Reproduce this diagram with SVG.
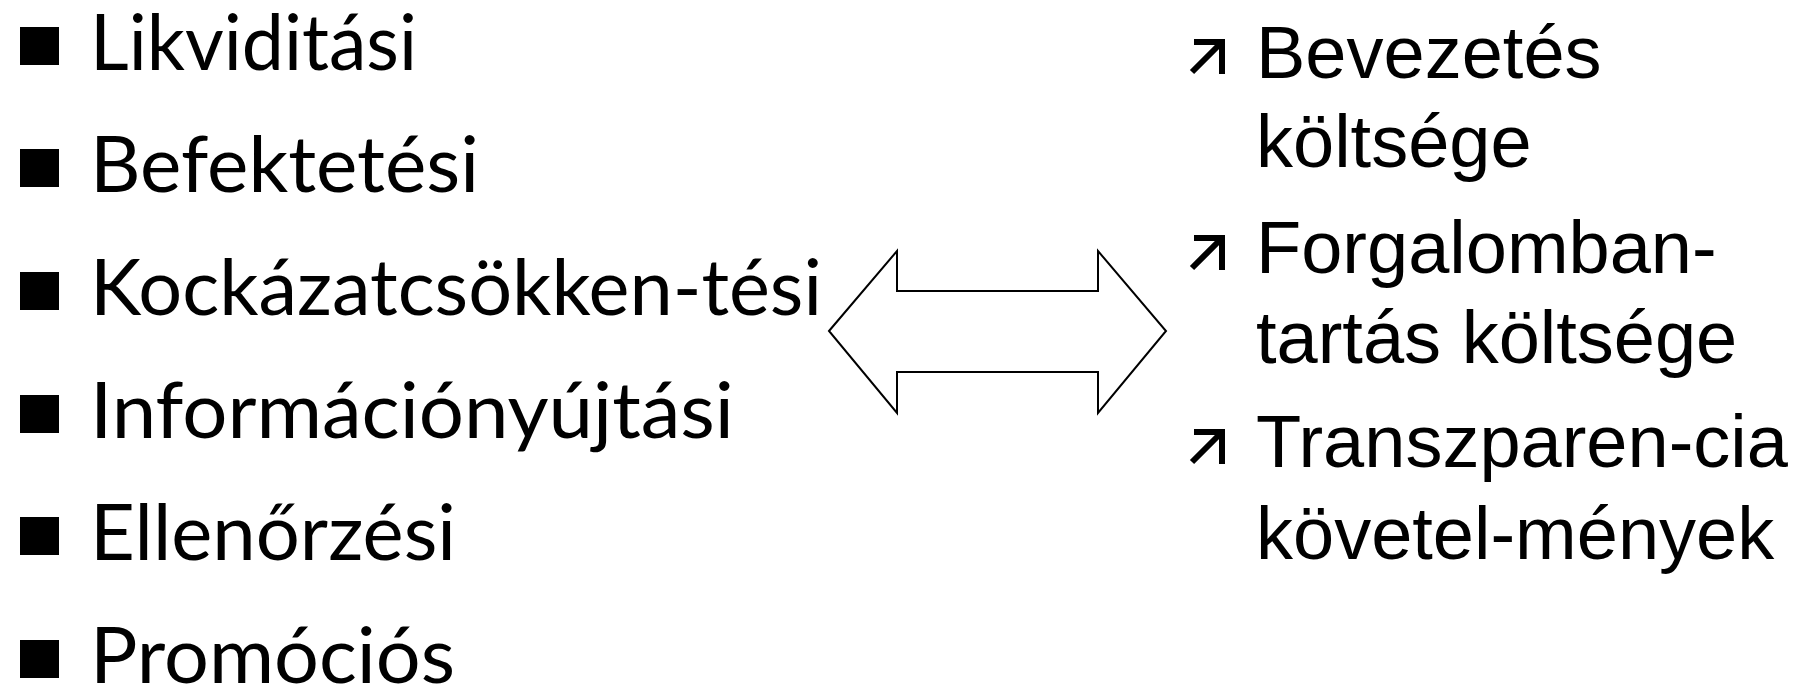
<svg xmlns="http://www.w3.org/2000/svg" width="1807" height="687" viewBox="0 0 1807 687">
<style>
.l{font-family:Lato,"Liberation Sans",sans-serif;font-size:78px;fill:#000}
.r{font-family:"Liberation Sans",Arial,sans-serif;font-size:74px;fill:#000}
.sq{fill:#000}
.bl{fill:none;stroke:#000;stroke-width:6;stroke-linecap:butt;stroke-linejoin:miter}
</style>
<defs>
<path id="arr" class="bl" d="M-14,16 L14,-12 M-12,-14 L16,-14 L16,18"/>
</defs>
<rect width="1807" height="687" fill="#fff"/>
<g id="left-list">
<g id="l1"><rect class="sq" x="20" y="27" width="39" height="38"/><text class="l" x="90" y="70" textLength="327" lengthAdjust="spacingAndGlyphs">Likviditási</text></g>
<g id="l2"><rect class="sq" x="20" y="149" width="39" height="38"/><text class="l" x="90" y="192" textLength="389" lengthAdjust="spacingAndGlyphs">Befektetési</text></g>
<g id="l3"><rect class="sq" x="20" y="272" width="39" height="38"/><text class="l" x="90" y="315" textLength="732" lengthAdjust="spacingAndGlyphs">Kockázatcsökken-tési</text></g>
<g id="l4"><rect class="sq" x="20" y="395" width="39" height="38"/><text class="l" x="90" y="438" textLength="644" lengthAdjust="spacingAndGlyphs">Információnyújtási</text></g>
<g id="l5"><rect class="sq" x="20" y="517" width="39" height="38"/><text class="l" x="90" y="560" textLength="366" lengthAdjust="spacingAndGlyphs">Ellenőrzési</text></g>
<g id="l6"><rect class="sq" x="20" y="640" width="39" height="38"/><text class="l" x="90" y="683" textLength="365" lengthAdjust="spacingAndGlyphs">Promóciós</text></g>
</g>
<g id="connectors">
<path d="M829,331 L897,251 L897,291 L1098,291 L1098,251 L1166,331 L1098,413 L1098,372 L897,372 L897,413 Z" fill="#fff" stroke="#000" stroke-width="2" stroke-linejoin="miter"/>
</g>
<g id="right-list">
<g id="r1"><use href="#arr" x="1206" y="56"/><text class="r" x="1256" y="78">Bevezetés</text><text class="r" x="1256" y="167">költsége</text></g>
<g id="r2"><use href="#arr" x="1206" y="252"/><text class="r" x="1256" y="273">Forgalomban-</text><text class="r" x="1256" y="363">tartás költsége</text></g>
<g id="r3"><use href="#arr" x="1206" y="446"/><text class="r" x="1256" y="467">Transzparen-cia</text><text class="r" x="1256" y="559">követel-mények</text></g>
</g>
</svg>
